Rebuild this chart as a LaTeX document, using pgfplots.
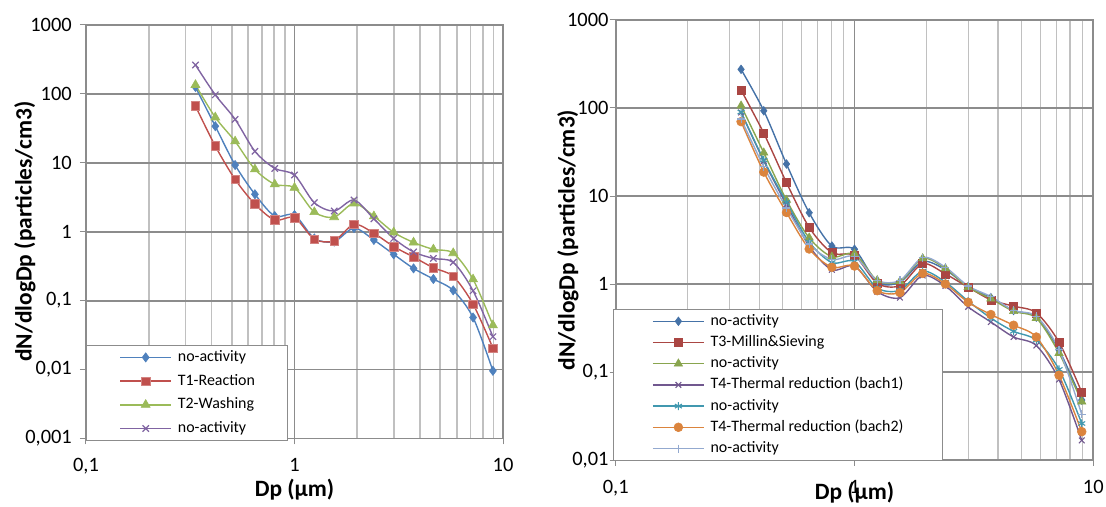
\documentclass[border=0pt]{standalone}
\usepackage{fontspec}
\setmainfont{Carlito}
\usepackage{pgfplots}
\pgfplotsset{compat=1.18}
\definecolor{gmaj}{RGB}{140,140,140}
\definecolor{gmin}{RGB}{192,192,192}
\definecolor{cA}{HTML}{4F81BD}
\definecolor{cB}{HTML}{C0504D}
\definecolor{cC}{HTML}{9BBB59}
\definecolor{cD}{HTML}{8064A2}
\definecolor{rA}{HTML}{4572A7}
\definecolor{rB}{HTML}{AA4643}
\definecolor{rC}{HTML}{89A54E}
\definecolor{rD}{HTML}{71588F}
\definecolor{rE}{HTML}{4198AF}
\definecolor{rF}{HTML}{DB843D}
\definecolor{rG}{HTML}{93A9CF}
\begin{document}
\begin{tikzpicture}
\useasboundingbox (0,0) rectangle (1106bp,507bp);
% ---------------- left panel ----------------
\begin{axis}[
  scale only axis, xmode=log, ymode=log,
  xmin=0.1, xmax=10,
  xtick={0.1,1,10}, xticklabels={{0,1},1,10},
  minor xtick={0.2,0.3,0.4,0.5,0.6,0.7,0.8,0.9,2,3,4,5,6,7,8,9},
  xmajorgrids, xminorgrids, ymajorgrids,
  major grid style={gmaj, line width=1.8bp},
  minor grid style={gmin, line width=1.6bp},
  axis line style={gmaj, line width=1bp},
  tick align=outside, tick pos=left,
  major tick length=6bp, minor tick length=0pt,
  tick style={gmaj, line width=1bp},
  ticklabel style={font=\fontsize{20.5}{24}\selectfont},
  xticklabel style={anchor=north, inner sep=0pt, yshift=-14bp},
  yticklabel style={anchor=east, inner sep=0pt, xshift=-8bp},
  label style={font=\bfseries\fontsize{23.5}{28}\selectfont},
  legend cell align=left,
  legend image code/.code={\draw[line width=1.4bp, mark repeat=2,mark phase=2] plot coordinates {(0bp,0bp) (25.5bp,0bp) (51bp,0bp)};},
  at={(86bp,68.5bp)}, anchor=south west,
  width=417bp, height=413.5bp,
  ymin=0.001, ymax=1000,
  ytick={0.001,0.01,0.1,1,10,100,1000},
  yticklabels={{0,001},{0,01},{0,1},1,10,100,1000},
  xlabel={Dp (µm)},
  ylabel={dN/dlogDp (particles/cm3)},
  xlabel style={at={(axis description cs:0.5,-0.1245)}, anchor=center},
  ylabel style={at={(axis description cs:-0.1463,0.5)}, anchor=center},
  legend style={at={(axis description cs:0,0)}, anchor=south west, yshift=-2.5bp,
    draw=gmaj, line width=1bp, fill=white, inner xsep=33bp, inner ysep=1.5bp,
    font=\fontsize{16}{19}\selectfont, row sep=2.7bp, column sep=6bp,
    nodes={inner sep=0pt, text height=14.5bp, text depth=6.5bp}},
]
\addplot[cA, line width=1.4bp, smooth, tension=0.5, mark=diamond*, mark size=4.6bp, mark options={solid, fill=cA, draw=cA, line width=0.6bp}] coordinates {
(0.335,126)(0.417,34)(0.519,9.3)(0.646,3.5)(0.804,1.69)(1.0,1.75)(1.245,0.80)(1.55,0.72)(1.93,1.13)(2.403,0.76)(2.991,0.47)(3.724,0.294)(4.636,0.206)(5.772,0.141)(7.186,0.057)(8.946,0.0096)};
\addlegendentry{no-activity}
\addplot[cB, line width=1.4bp, smooth, tension=0.5, mark=square*, mark size=4.3bp, mark options={solid, fill=cB, draw=cB!70!white, line width=0.6bp}] coordinates {
(0.335,66.7)(0.417,17.5)(0.519,5.76)(0.646,2.52)(0.804,1.48)(1.0,1.6)(1.245,0.78)(1.55,0.74)(1.93,1.28)(2.403,0.95)(2.991,0.61)(3.724,0.43)(4.636,0.30)(5.772,0.225)(7.186,0.089)(8.946,0.0205)};
\addlegendentry{T1-Reaction}
\addplot[cC, line width=1.4bp, smooth, tension=0.5, mark=triangle*, mark size=5.2bp, mark options={solid, fill=cC, draw=cC, line width=0.6bp}] coordinates {
(0.335,135)(0.417,45.7)(0.519,20.5)(0.646,8.05)(0.804,4.88)(1.0,4.35)(1.245,1.93)(1.55,1.63)(1.93,2.58)(2.403,1.68)(2.991,0.98)(3.724,0.70)(4.636,0.555)(5.772,0.49)(7.186,0.204)(8.946,0.044)};
\addlegendentry{T2-Washing}
\addplot[cD, line width=1.4bp, smooth, tension=0.5, mark=x, mark size=4.5bp, mark options={solid, draw=cD, line width=1.2bp}] coordinates {
(0.335,263)(0.417,97)(0.519,42.8)(0.646,14.7)(0.804,8.3)(1.0,6.65)(1.245,2.64)(1.55,2.0)(1.93,2.89)(2.403,1.54)(2.991,0.80)(3.724,0.51)(4.636,0.41)(5.772,0.36)(7.186,0.139)(8.946,0.030)};
\addlegendentry{no-activity}
\end{axis}
% ---------------- right panel ----------------
\begin{axis}[
  scale only axis, xmode=log, ymode=log,
  xmin=0.1, xmax=10,
  xtick={0.1,1,10}, xticklabels={{0,1},1,10},
  minor xtick={0.2,0.3,0.4,0.5,0.6,0.7,0.8,0.9,2,3,4,5,6,7,8,9},
  xmajorgrids, xminorgrids, ymajorgrids,
  major grid style={gmaj, line width=1.8bp},
  minor grid style={gmin, line width=1.6bp},
  axis line style={gmaj, line width=1bp},
  tick align=outside, tick pos=left,
  major tick length=6bp, minor tick length=0pt,
  tick style={gmaj, line width=1bp},
  ticklabel style={font=\fontsize{20.5}{24}\selectfont},
  xticklabel style={anchor=north, inner sep=0pt, yshift=-14bp},
  yticklabel style={anchor=east, inner sep=0pt, xshift=-1bp},
  label style={font=\bfseries\fontsize{23.5}{28}\selectfont},
  legend cell align=left,
  legend image code/.code={\draw[line width=1.4bp, mark repeat=2,mark phase=2] plot coordinates {(0bp,0bp) (25.5bp,0bp) (51bp,0bp)};},
  at={(615.7bp,47bp)}, anchor=south west,
  width=477.6bp, height=440bp,
  ymin=0.01, ymax=1000,
  ytick={0.01,0.1,1,10,100,1000},
  yticklabels={{0,01},{0,1},1,10,100,1000},
  xlabel={Dp (µm)},
  ylabel={dN/dlogDp (particles/cm3)},
  xlabel style={at={(axis description cs:0.5,-0.075)}, anchor=center},
  ylabel style={at={(axis description cs:-0.0999,0.5)}, anchor=center},
  legend style={at={(axis description cs:0,0)}, anchor=south west, xshift=-3bp, yshift=-1bp,
    draw=gmaj, line width=1bp, fill=white, inner xsep=39bp, inner ysep=1.5bp,
    font=\fontsize{16}{19}\selectfont, row sep=0.2bp, column sep=6bp,
    nodes={inner sep=0pt, text height=14.5bp, text depth=6.5bp}},
]
\addplot[rA, line width=1.4bp, smooth, tension=0.5, mark=diamond*, mark size=4.3bp, mark options={solid, fill=rA, draw=rA, line width=0.6bp}] coordinates {
(0.335,275)(0.417,93)(0.519,23.1)(0.646,6.45)(0.804,2.7)(1.0,2.48)(1.245,1.05)(1.55,1.05)(1.93,1.8)(2.403,1.45)(2.991,0.93)(3.724,0.70)(4.636,0.50)(5.772,0.42)(7.186,0.178)(8.946,0.048)};
\addlegendentry{no-activity}
\addplot[rB, line width=1.4bp, smooth, tension=0.5, mark=square*, mark size=4bp, mark options={solid, fill=rB, draw=rB, line width=0.6bp}] coordinates {
(0.335,160)(0.417,51.6)(0.519,14.2)(0.646,4.4)(0.804,2.27)(1.0,2.1)(1.245,1.02)(1.55,0.96)(1.93,1.7)(2.403,1.3)(2.991,0.92)(3.724,0.66)(4.636,0.56)(5.772,0.47)(7.186,0.218)(8.946,0.059)};
\addlegendentry{T3-Millin\&Sieving}
\addplot[rC, line width=1.4bp, smooth, tension=0.5, mark=triangle*, mark size=4.8bp, mark options={solid, fill=rC, draw=rC, line width=0.6bp}] coordinates {
(0.335,106)(0.417,31)(0.519,9.0)(0.646,3.35)(0.804,2.04)(1.0,2.2)(1.245,1.1)(1.55,1.07)(1.93,1.95)(2.403,1.5)(2.991,0.92)(3.724,0.68)(4.636,0.49)(5.772,0.41)(7.186,0.164)(8.946,0.046)};
\addlegendentry{no-activity}
\addplot[rD, line width=1.4bp, smooth, tension=0.5, mark=x, mark size=4bp, mark options={solid, draw=rD, line width=1.1bp}] coordinates {
(0.335,89)(0.417,25)(0.519,8.0)(0.646,2.7)(0.804,1.45)(1.0,1.6)(1.245,0.82)(1.55,0.70)(1.93,1.25)(2.403,0.95)(2.991,0.55)(3.724,0.37)(4.636,0.25)(5.772,0.20)(7.186,0.082)(8.946,0.0167)};
\addlegendentry{T4-Thermal reduction (bach1)}
\addplot[rE, line width=1.4bp, smooth, tension=0.5, mark=asterisk, mark size=4bp, mark options={solid, draw=rE, line width=1.1bp}] coordinates {
(0.335,90)(0.417,25.6)(0.519,8.5)(0.646,3.0)(0.804,1.75)(1.0,1.8)(1.245,0.90)(1.55,0.85)(1.93,1.4)(2.403,1.05)(2.991,0.64)(3.724,0.41)(4.636,0.29)(5.772,0.23)(7.186,0.107)(8.946,0.026)};
\addlegendentry{no-activity}
\addplot[rF, line width=1.4bp, smooth, tension=0.5, mark=*, mark size=4.4bp, mark options={solid, fill=rF, draw=rF, line width=0.6bp}] coordinates {
(0.335,70)(0.417,18.7)(0.519,6.5)(0.646,2.5)(0.804,1.55)(1.0,1.6)(1.245,0.84)(1.55,0.80)(1.93,1.32)(2.403,1.0)(2.991,0.62)(3.724,0.45)(4.636,0.34)(5.772,0.25)(7.186,0.092)(8.946,0.021)};
\addlegendentry{T4-Thermal reduction (bach2)}
\addplot[rG, line width=1.4bp, smooth, tension=0.5, mark=+, mark size=4bp, mark options={solid, draw=rG, line width=1.1bp}] coordinates {
(0.335,75)(0.417,21.5)(0.519,7.3)(0.646,2.85)(0.804,1.9)(1.0,2.05)(1.245,1.1)(1.55,1.1)(1.93,2.0)(2.403,1.55)(2.991,0.95)(3.724,0.72)(4.636,0.50)(5.772,0.43)(7.186,0.18)(8.946,0.033)};
\addlegendentry{no-activity}
\end{axis}
\end{tikzpicture}
\end{document}
